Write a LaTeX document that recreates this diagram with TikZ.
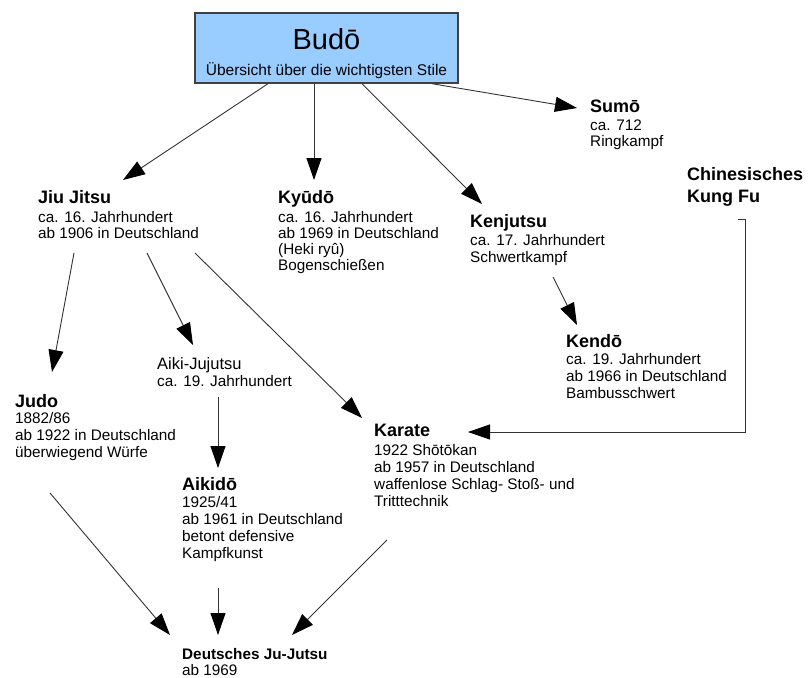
\documentclass[tikz,border=0pt]{standalone}
\usepackage{fontspec}
\setmainfont{Liberation Sans}
\usetikzlibrary{arrows.meta}
\definecolor{boxblue}{HTML}{99CCFF}
\newcommand{\txl}[1]{\hbox{#1}}
\begin{document}
\begin{tikzpicture}[x=1pt,y=-1pt,
  hd/.style={anchor=base west, inner sep=0pt, font=\fontsize{18}{22}\bfseries\selectfont},
  bd/.style={anchor=base west, inner sep=0pt, font=\fontsize{15.3}{17}\selectfont},
  con/.style={draw=black!80, line width=0.9pt, -{Triangle[length=22pt,width=15pt,color=black]}},
]
\useasboundingbox (0,0) rectangle (808,677);
% title box
\node[draw=black!75, line width=1.4pt, fill=boxblue, minimum width=263pt, minimum height=70pt, inner sep=0pt] (budo) at (326.5,48) {};
\node[anchor=base, inner sep=0pt, font=\fontsize{29}{30}\selectfont] (title) at (326.5,50) {Budō};
\node[anchor=base, inner sep=0pt, font=\fontsize{15.5}{17}\selectfont] (sub) at (326.5,75) {Übersicht über die wichtigsten Stile};

% Sumo
\node[hd] (sumo) at (590,112) {Sumō};
\node[bd] (sumob) at (590,130) {\vtop{\baselineskip=16.5pt\txl{ca. 712}\txl{Ringkampf}}};
% Kung Fu
\node[hd] (kung) at (687,180) {\vtop{\baselineskip=22pt\txl{Chinesisches}\txl{Kung Fu}}};
% Jiu Jitsu
\node[hd] (jiu) at (38,203) {Jiu Jitsu};
\node[bd] (jiub) at (38,222) {\vtop{\baselineskip=16.5pt\txl{ca. 16. Jahrhundert}\txl{ab 1906 in Deutschland}}};
% Kyudo
\node[hd] (kyu) at (278,203) {Kyūdō};
\node[bd] (kyub) at (278,222) {\vtop{\baselineskip=16.2pt\txl{ca. 16. Jahrhundert}\txl{ab 1969 in Deutschland}\txl{(Heki ryû)}\txl{Bogenschießen}}};
% Kenjutsu
\node[hd] (ken) at (470,227) {Kenjutsu};
\node[bd] (kenb) at (470,245) {\vtop{\baselineskip=17pt\txl{ca. 17. Jahrhundert}\txl{Schwertkampf}}};
% Kendo
\node[hd] (kendo) at (566,347) {Kendō};
\node[bd] (kendob) at (566,364) {\vtop{\baselineskip=17pt\txl{ca. 19. Jahrhundert}\txl{ab 1966 in Deutschland}\txl{Bambusschwert}}};
% Aiki-Jujutsu
\node[anchor=base west, inner sep=0pt, font=\fontsize{16.5}{18}\selectfont] (aiki) at (157,369) {Aiki-Jujutsu};
\node[bd] (aikib) at (157,386) {ca. 19. Jahrhundert};
% Judo
\node[hd] (judo) at (15,407) {Judo};
\node[bd] (judob) at (15,423) {\vtop{\baselineskip=17pt\txl{1882/86}\txl{ab 1922 in Deutschland}\txl{überwiegend Würfe}}};
% Karate
\node[hd] (karate) at (374,436) {Karate};
\node[bd] (karateb) at (374,455) {\vtop{\baselineskip=17pt\txl{1922 Shōtōkan}\txl{ab 1957 in Deutschland}\txl{waffenlose Schlag- Stoß- und}\txl{Tritttechnik}}};
% Aikido
\node[hd] (aikido) at (182,490) {Aikidō};
\node[bd] (aikidob) at (182,507) {\vtop{\baselineskip=17.2pt\txl{1925/41}\txl{ab 1961 in Deutschland}\txl{betont defensive}\txl{Kampfkunst}}};
% Deutsches Ju-Jutsu
\node[anchor=base west, inner sep=0pt, font=\fontsize{15.3}{17}\bfseries\selectfont] (djj) at (182,659) {Deutsches Ju-Jutsu};
\node[bd] (djjb) at (182,675) {ab 1969};

% connectors
\draw[con] ([xshift=-58.5pt]budo.south) -- ([shift={(85,-23)}]jiu.base west);
\draw[con] ([xshift=-12.5pt]budo.south) -- ([shift={(36,-23)}]kyu.base west);
\draw[con] ([xshift=35.5pt]budo.south) -- ([shift={(12,-23)}]ken.base west);
\draw[con] ([xshift=105.5pt]budo.south) -- ([shift={(-13,-4)}]sumo.base west);
\draw[con] ([shift={(36,50)}]jiu.base west) -- ([shift={(37,-35)}]judo.base west);
\draw[con] ([shift={(109,50)}]jiu.base west) -- ([shift={(36,-24)}]aiki.base west);
\draw[con] ([shift={(157,50)}]jiu.base west) -- ([shift={(-12,-18)}]karate.base west);
\draw[con] ([shift={(61,28)}]aiki.base west) -- ([shift={(36,-22)}]aikido.base west);
\draw[con] ([shift={(83,50)}]ken.base west) -- ([shift={(11,-22)}]kendo.base west);
\draw[con] ([shift={(51,39)}]kung.base west) -- ++(7,0) -- ++(0,213) -- ([shift={(94,-4)}]karate.base west);
\draw[con] ([shift={(35,86)}]judo.base west) -- ([shift={(-12,-24)}]djj.base west);
\draw[con] ([shift={(36,98)}]aikido.base west) -- ([shift={(36,-24)}]djj.base west);
\draw[con] ([shift={(13,104)}]karate.base west) -- ([shift={(110,-24)}]djj.base west);
\end{tikzpicture}
\end{document}
